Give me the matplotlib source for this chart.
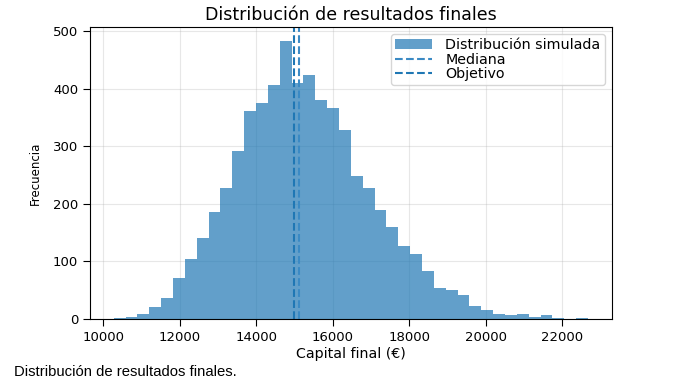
import numpy as np
import matplotlib.pyplot as plt

# histogram: 40 bins from ~10278 to ~22670
bin_start = 10278
bin_width = 309.8
counts = [2, 4, 9, 21, 36, 72, 104, 141, 185, 228,
          291, 361, 375, 406, 483, 410, 424, 381, 366, 328,
          249, 227, 190, 159, 126, 112, 84, 54, 50, 42,
          22, 16, 9, 7, 8, 4, 7, 2, 0, 2]
mediana = 15125
objetivo = 15000

edges = bin_start + bin_width * np.arange(len(counts) + 1)
centers = (edges[:-1] + edges[1:]) / 2

fig = plt.figure(figsize=(6.82, 3.89), dpi=100)
ax = fig.add_axes([0.132, 0.18, 0.765, 0.751])

ax.hist(centers, bins=edges, weights=counts, color='#1f77b4', alpha=0.7,
        label='Distribución simulada')
ax.axvline(mediana, color='#3b8ac4', linestyle='--', linewidth=1.5, label='Mediana')
ax.axvline(objetivo, color='#1f77b4', linestyle='--', linewidth=1.5, label='Objetivo')

ax.set_title('Distribución de resultados finales', fontsize=12.5, pad=5)
ax.set_xlabel('Capital final (€)', fontsize=10.2, labelpad=2)
ax.set_ylabel('Frecuencia', fontsize=8.5, labelpad=8)
ax.tick_params(labelsize=9.5, length=5)
ax.grid(alpha=0.3)
ax.set_axisbelow(True)
ax.legend(fontsize=10.3, loc='upper right', labelspacing=0.02, borderpad=0.3,
          handlelength=2.6, handletextpad=0.9, borderaxespad=0.5)

fig.text(0.02, 0.044, 'Distribución de resultados finales.',
         fontsize=10.7, family=['Liberation Sans Narrow', 'Liberation Sans', 'DejaVu Sans'],
         va='center')

fig.savefig('out.png', dpi=100)
